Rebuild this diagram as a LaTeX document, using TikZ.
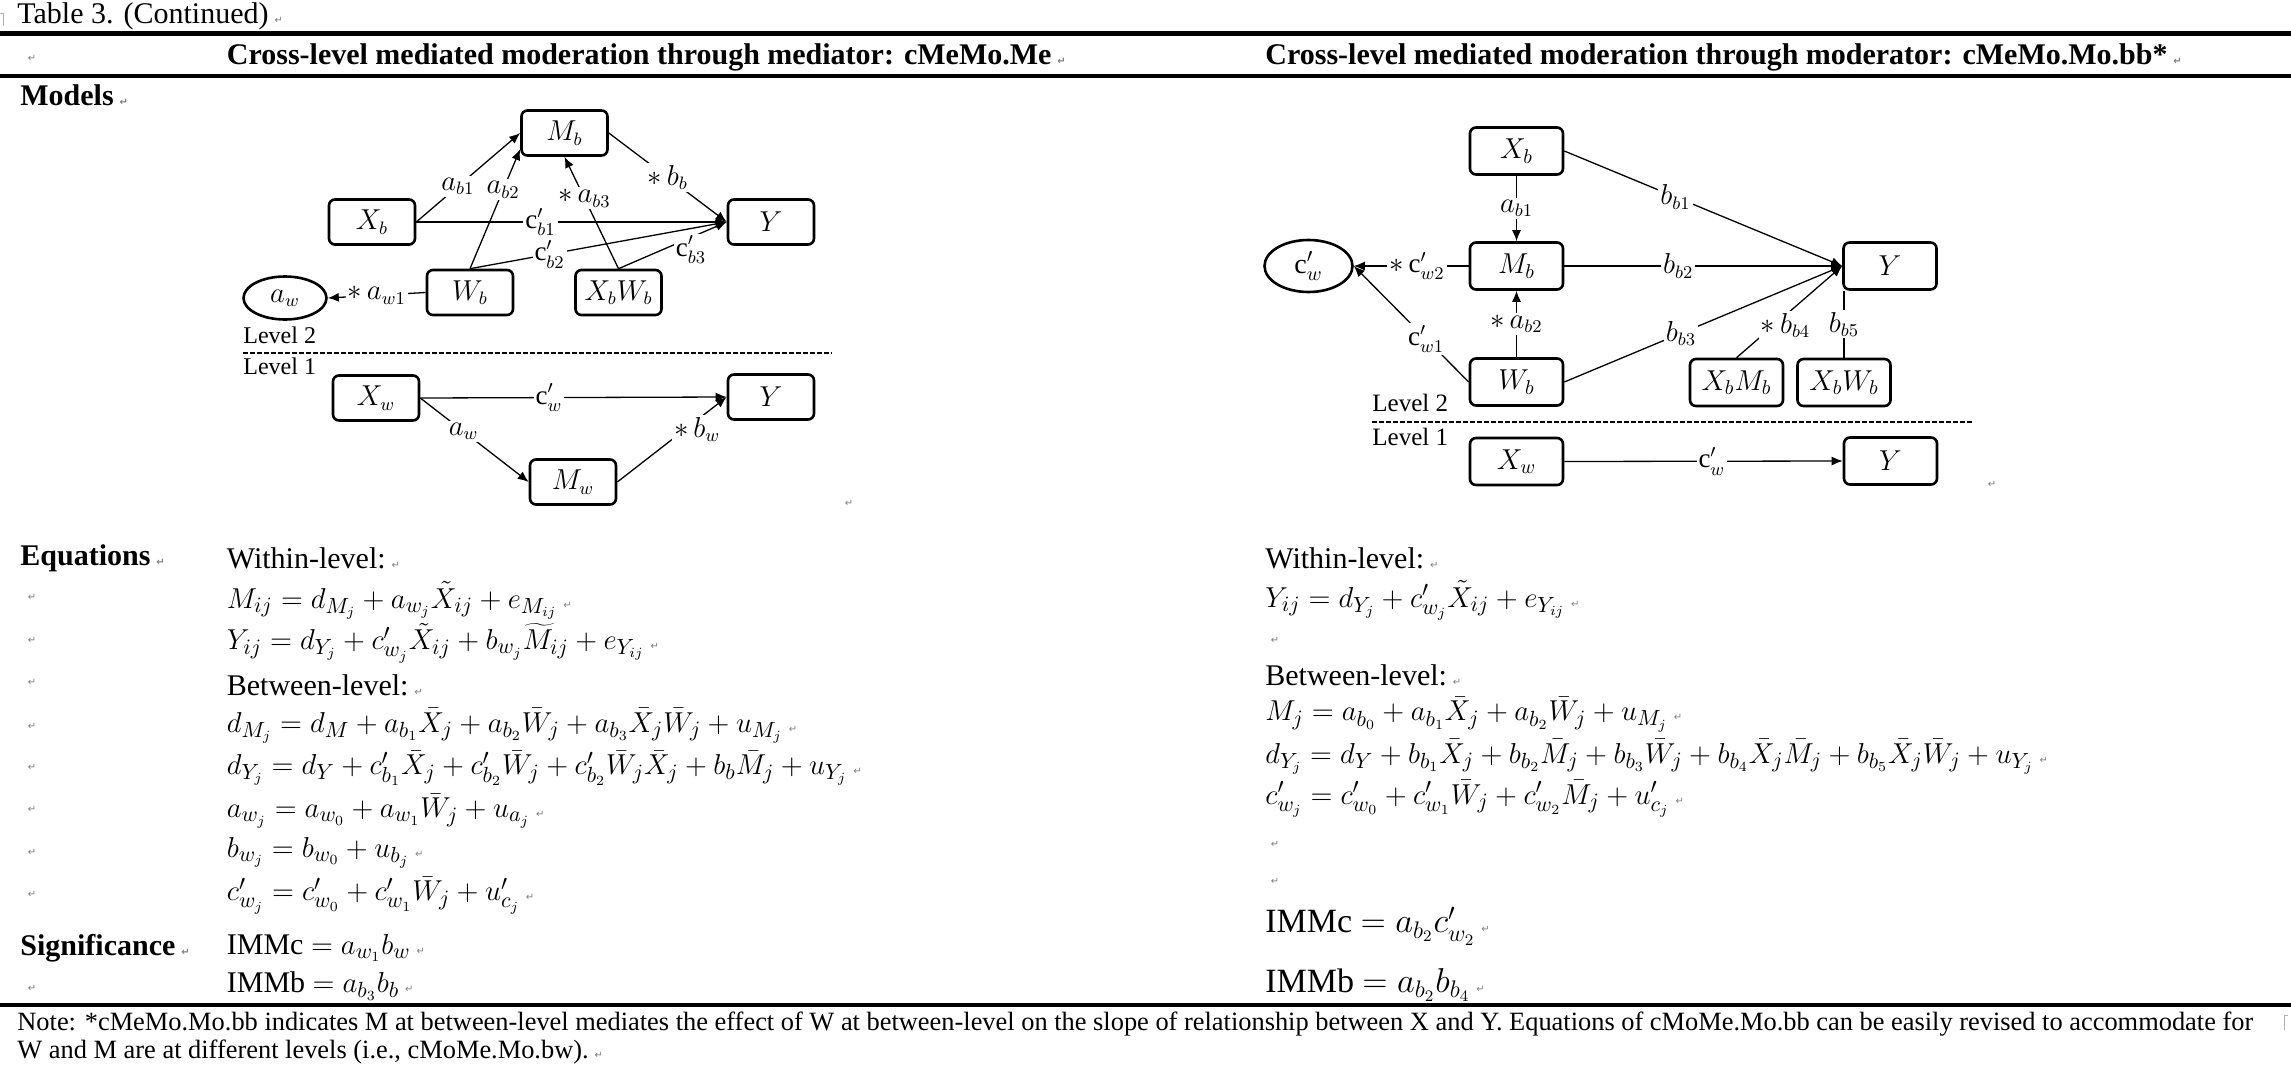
\documentclass[tikz,border=0pt]{standalone}
\usepackage{fontspec}
\setmainfont{Liberation Serif}
\newfontfamily\marksfont{DejaVu Sans}
\usetikzlibrary{shapes.geometric,arrows.meta}

% Word paragraph mark
\newcommand\rt{\hspace{3pt}{\marksfont\fontsize{5}{5}\selectfont\textcolor{gray}{↵}}}

\tikzset{
    box/.style={draw, line width=1.3pt, rounded corners=3pt, minimum width=43pt, minimum height=22.5pt, inner sep=0pt, font=\fontsize{13.5}{15}\selectfont},
    bbox/.style={box, minimum width=46.5pt, minimum height=23.5pt, font=\fontsize{14}{16}\selectfont},
    ell/.style={draw, ellipse, line width=1.3pt, inner sep=0pt, font=\fontsize{13.5}{15}\selectfont},
    lbl/.style={fill=white, inner sep=1pt, font=\fontsize{13.5}{15}\selectfont},
    arr/.style={-{Latex[length=5.5pt,width=4.5pt]}, line width=0.65pt},
    plain/.style={line width=0.65pt},
    lvl/.style={anchor=west, inner sep=0pt, font=\fontsize{12}{14}\selectfont},
    txt/.style={anchor=west, inner sep=0pt, font=\fontsize{15}{18}\selectfont},
    hd/.style={txt, font=\fontsize{15}{18}\selectfont\bfseries},
    note/.style={anchor=west, inner sep=0pt, font=\fontsize{13.2}{15}\selectfont},
}

\begin{document}
\begin{tikzpicture}[x=0.5pt, y=-0.5pt]
    \useasboundingbox (0,0) rectangle (2291,1076);

    % table frame
    \draw[gray!60, line width=0.4pt] (0,13) -- (3,13) -- (3,26);
    \node at (17,16) (title) [txt] {Table 3. (Continued)\rt};
    \draw[line width=2.2pt] (0,33.6) -- (2291,33.6);
    \node at (29,58) (hmk) {\rt};
    \node at (226.5,57) (headl) [hd] {Cross-level mediated moderation through mediator: cMeMo.Me\rt};
    \node at (1265,57) (headr) [hd] {Cross-level mediated moderation through moderator: cMeMo.Mo.bb*\rt};
    \draw[line width=1.6pt] (0,76) -- (2291,76);
    \node at (20,95) (models) [hd] {Models\rt};

    % left model
    \node at (564.5,133) (mb) [box] {$M_b$};
    \node at (372,222) (xb) [box] {$X_b$};
    \node at (771,222) (yb) [box] {$Y$};
    \node at (470,292.5) (wb) [box] {$W_b$};
    \node at (618.5,292.5) (xw) [box] {$X_bW_b$};
    \node at (285,298) (aw) [ell, minimum width=41.5pt, minimum height=21.5pt] {$a_w$};
    \node at (243,335) (l2) [lvl] {Level 2};
    \draw[line width=1pt, dash pattern=on 2.5pt off 1pt] (243,353) -- (832,353);
    \node at (243,366) (l1) [lvl] {Level 1};
    \node at (376,398) (xwi) [box] {$X_w$};
    \node at (771,397) (ywi) [box] {$Y$};
    \node at (573,482) (mwi) [box] {$M_w$};
    \node at (846,503) (lmk) {\rt};

    \draw (xb.east)
        edge[arr] node[lbl, pos=0.4] {$a_{b1}$} (mb.west)
        edge[arr] node[lbl, pos=0.4] {$\mathrm{c}'_{b1}$} (yb.west);
    \draw (wb.north)
        edge[arr] node[lbl, pos=0.66] {$a_{b2}$} (mb.-160)
        edge[arr] node[lbl, pos=0.31] {$\mathrm{c}'_{b2}$} (yb.west);
    \draw (xw.north)
        edge[arr] node[lbl, pos=0.63] {$*\,a_{b3}$} (mb.south)
        edge[arr] node[lbl, pos=0.67, yshift=-6pt] {$\mathrm{c}'_{b3}$} (yb.west);
    \draw (mb.east)
        edge[arr] node[lbl, pos=0.5] {$*\,b_b$} (yb.west);
    \draw (wb.west)
        edge[arr] node[lbl, pos=0.5] {$*\,a_{w1}$} (aw.east);
    \draw (xwi.east)
        edge[arr] node[lbl, pos=0.42] {$\mathrm{c}'_w$} (ywi.west)
        edge[arr] node[lbl, pos=0.4] {$a_w$} (mwi.west);
    \draw (mwi.east)
        edge[arr] node[lbl, pos=0.62, xshift=6pt] {$*\,b_w$} (ywi.west);

    % right model
    \node at (1516.5,151) (rxb) [bbox] {$X_b$};
    \node at (1516.5,266) (rmb) [bbox] {$M_b$};
    \node at (1890,266) (ry) [bbox] {$Y$};
    \node at (1516.5,382) (rwb) [bbox] {$W_b$};
    \node at (1736.5,382.5) (rxm) [bbox] {$X_bM_b$};
    \node at (1844,382.5) (rxw) [bbox] {$X_bW_b$};
    \node at (1308.5,266) (rcw) [ell, minimum width=44pt, minimum height=26pt, font=\fontsize{14}{16}\selectfont] {$\mathrm{c}'_w$};
    \node at (1372,403) (rl2) [lvl, font=\fontsize{12.5}{14}\selectfont] {Level 2};
    \draw[line width=1pt, dash pattern=on 2.5pt off 1pt] (1372,422) -- (1974,422);
    \node at (1372,437) (rl1) [lvl, font=\fontsize{12.5}{14}\selectfont] {Level 1};
    \node at (1516.5,461.5) (rxwi) [bbox] {$X_w$};
    \node at (1890.5,461) (rywi) [bbox] {$Y$};
    \node at (1989,484) (rmk) {\rt};

    \draw (rxb.south)
        edge[arr] node[lbl, pos=0.5] {$a_{b1}$} (rmb.north);
    \draw (rxb.east)
        edge[arr] node[lbl, pos=0.4] {$b_{b1}$} (ry.west);
    \draw (rmb.east)
        edge[arr] node[lbl, pos=0.41] {$b_{b2}$} (ry.west);
    \draw (rmb.west)
        edge[arr] node[lbl, pos=0.45] {$*\,\mathrm{c}'_{w2}$} (rcw.east);
    \draw (rwb.north)
        edge[arr] node[lbl, pos=0.5] {$*\,a_{b2}$} (rmb.south);
    \draw (rwb.west)
        edge[arr] node[lbl, pos=0.37] {$\mathrm{c}'_{w1}$} (rcw.east);
    \draw (rwb.east)
        edge[arr] node[lbl, pos=0.42] {$b_{b3}$} (ry.west);
    \draw (rxm.north)
        edge[arr] node[lbl, pos=0.35, xshift=6pt] {$*\,b_{b4}$} (ry.west);
    \draw (rxw.north)
        edge[plain] node[lbl, pos=0.5] {$b_{b5}$} (rxw.north |- ry.south);
    \draw (rxwi.east)
        edge[arr] node[lbl, pos=0.53] {$\mathrm{c}'_w$} (rywi.west);

    % equations, left
    \node at (20,558) (eqs) [hd] {Equations\rt};
    \foreach \y in {597.6,640,682,726,767,809,852,894,988}
        \node at (29,\y) {\rt};
    \node at (226.5,558) (lw) [txt] {Within-level:\rt};
    \node at (226.5,600.5) (lm) [txt] {$M_{ij}=d_{M_j}+a_{w_j}\tilde{X}_{ij}+e_{M_{ij}}$\rt};
    \node at (226.5,643) (ly) [txt] {$Y_{ij}=d_{Y_j}+c'_{w_j}\tilde{X}_{ij}+b_{w_j}\widetilde{M}_{ij}+e_{Y_{ij}}$\rt};
    \node at (226.5,685) (lb) [txt] {Between-level:\rt};
    \node at (226.5,726) (ldm) [txt] {$d_{M_j}=d_M+a_{b_1}\bar{X}_j+a_{b_2}\bar{W}_j+a_{b_3}\bar{X}_j\bar{W}_j+u_{M_j}$\rt};
    \node at (226.5,768.5) (ldy) [txt] {$d_{Y_j}=d_Y+c'_{b_1}\bar{X}_j+c'_{b_2}\bar{W}_j+c'_{b_2}\bar{W}_j\bar{X}_j+b_b\bar{M}_j+u_{Y_j}$\rt};
    \node at (226.5,811) (law) [txt] {$a_{w_j}=a_{w_0}+a_{w_1}\bar{W}_j+u_{a_j}$\rt};
    \node at (226.5,853) (lbw) [txt] {$b_{w_j}=b_{w_0}+u_{b_j}$\rt};
    \node at (226.5,895.5) (lcw) [txt] {$c'_{w_j}=c'_{w_0}+c'_{w_1}\bar{W}_j+u'_{c_j}$\rt};
    \node at (20,948) (sig) [hd] {Significance\rt};
    \node at (226.5,948) (limc) [txt] {IMMc $=a_{w_1}b_w$\rt};
    \node at (226.5,986) (limb) [txt] {IMMb $=a_{b_3}b_b$\rt};

    % equations, right
    \node at (1265,558) (rw) [txt] {Within-level:\rt};
    \node at (1265,600.5) (ryq) [txt] {$Y_{ij}=d_{Y_j}+c'_{w_j}\tilde{X}_{ij}+e_{Y_{ij}}$\rt};
    \node at (1272,640) (rmk1) {\rt};
    \node at (1265,675) (rb) [txt] {Between-level:\rt};
    \node at (1265,714.5) (rm) [txt] {$M_j=a_{b_0}+a_{b_1}\bar{X}_j+a_{b_2}\bar{W}_j+u_{M_j}$\rt};
    \node at (1265,757) (rdy) [txt] {$d_{Y_j}=d_Y+b_{b_1}\bar{X}_j+b_{b_2}\bar{M}_j+b_{b_3}\bar{W}_j+b_{b_4}\bar{X}_j\bar{M}_j+b_{b_5}\bar{X}_j\bar{W}_j+u_{Y_j}$\rt};
    \node at (1265,799) (rcwq) [txt] {$c'_{w_j}=c'_{w_0}+c'_{w_1}\bar{W}_j+c'_{w_2}\bar{M}_j+u'_{c_j}$\rt};
    \node at (1272,844.5) (rmk2) {\rt};
    \node at (1272,881) (rmk3) {\rt};
    \node at (1265,926) (rimc) [txt, font=\fontsize{17}{20}\selectfont] {IMMc $=a_{b_2}c^{\prime}_{w_2}$\rt};
    \node at (1265,985) (rimb) [txt, font=\fontsize{17}{20}\selectfont] {IMMb $=a_{b_2}b_{b_4}$\rt};

    % note
    \draw[line width=2.2pt] (0,1005) -- (2291,1005);
    \node at (17,1024) (note1) [note] {Note: *cMeMo.Mo.bb indicates M at between-level mediates the effect of W at between-level on the slope of relationship between X and Y. Equations of cMoMe.Mo.bb can be easily revised to accommodate for};
    \node at (17,1052) (note2) [note] {W and M are at different levels (i.e., cMoMe.Mo.bw).\rt};
    \draw[gray!60, line width=0.4pt] (2288,1015) -- (2284,1015) -- (2284,1030);
\end{tikzpicture}
\end{document}
